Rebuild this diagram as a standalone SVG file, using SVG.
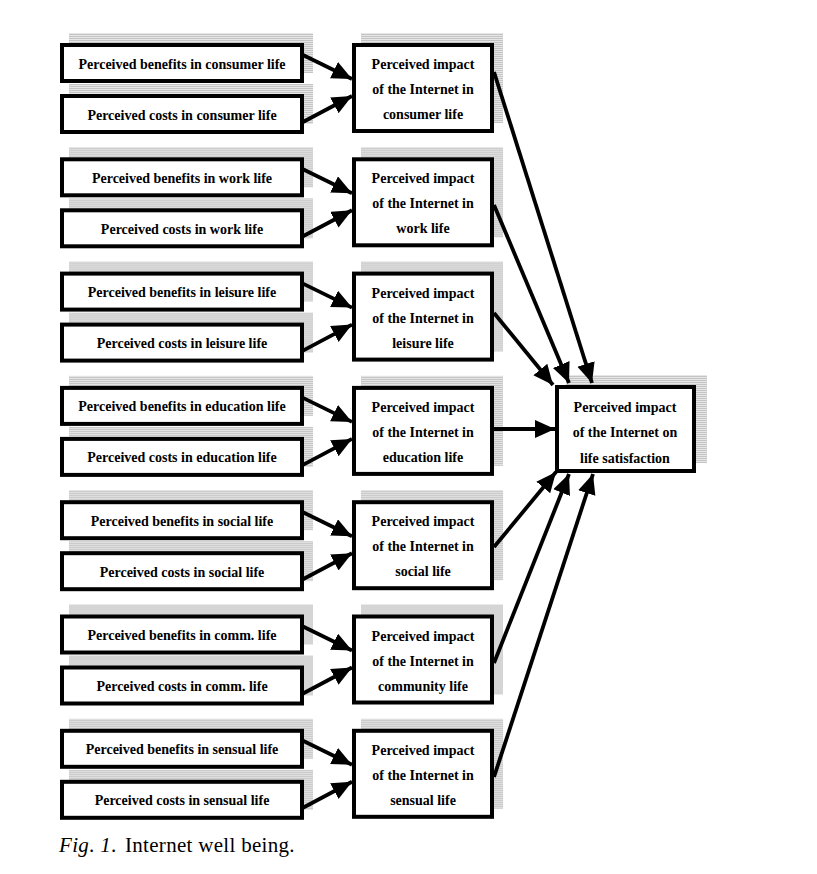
<svg xmlns="http://www.w3.org/2000/svg" width="817" height="874" viewBox="0 0 817 874">
<defs>
<pattern id="stripes" patternUnits="userSpaceOnUse" width="4" height="2">
<rect width="4" height="2" fill="#e6e6e6"/>
<rect width="4" height="1" fill="#c4c4c4"/>
</pattern>
<marker id="ah" markerUnits="userSpaceOnUse" markerWidth="22" markerHeight="20" refX="20" refY="9" orient="auto">
<path d="M0,0 L20,9 L0,18 z" fill="#000"/>
</marker>
</defs>
<style>
.sh{fill:url(#stripes);}
.bx{fill:#fff;stroke:#000;stroke-width:4;}
.t{font-family:"Liberation Serif","Times New Roman",serif;font-weight:bold;font-size:14px;text-anchor:middle;fill:#000;}
.c{fill:none;stroke:#000;stroke-width:3.8;marker-end:url(#ah);}
.cap{font-family:"Liberation Serif","Times New Roman",serif;font-size:21px;letter-spacing:0.3px;fill:#000;}
</style>
<rect width="817" height="874" fill="#fff"/>

<g id="consumer" transform="translate(0,0)">
<g id="b-consumer"><rect class="sh" x="69" y="33" width="244" height="40"/><rect class="bx" x="62" y="45" width="240" height="36"/><text class="t" x="182" y="68.5">Perceived benefits in consumer life</text></g>
<g id="c-consumer"><rect class="sh" x="69" y="84" width="244" height="40"/><rect class="bx" x="62" y="96" width="240" height="36"/><text class="t" x="182" y="119.5">Perceived costs in consumer life</text></g>
<g id="i-consumer"><rect class="sh" x="361" y="33" width="142" height="90"/><rect class="bx" x="354" y="45" width="138" height="86"/><text class="t" x="423" y="69">Perceived impact</text><text class="t" x="423" y="94">of the Internet in</text><text class="t" x="423" y="119">consumer life</text></g>
</g>

<g id="work" transform="translate(0,114.3)">
<g id="b-work"><rect class="sh" x="69" y="33" width="244" height="40"/><rect class="bx" x="62" y="45" width="240" height="36"/><text class="t" x="182" y="68.5">Perceived benefits in work life</text></g>
<g id="c-work"><rect class="sh" x="69" y="84" width="244" height="40"/><rect class="bx" x="62" y="96" width="240" height="36"/><text class="t" x="182" y="119.5">Perceived costs in work life</text></g>
<g id="i-work"><rect class="sh" x="361" y="33" width="142" height="90"/><rect class="bx" x="354" y="45" width="138" height="86"/><text class="t" x="423" y="69">Perceived impact</text><text class="t" x="423" y="94">of the Internet in</text><text class="t" x="423" y="119">work life</text></g>
</g>

<g id="leisure" transform="translate(0,228.6)">
<g id="b-leisure"><rect class="sh" x="69" y="33" width="244" height="40"/><rect class="bx" x="62" y="45" width="240" height="36"/><text class="t" x="182" y="68.5">Perceived benefits in leisure life</text></g>
<g id="c-leisure"><rect class="sh" x="69" y="84" width="244" height="40"/><rect class="bx" x="62" y="96" width="240" height="36"/><text class="t" x="182" y="119.5">Perceived costs in leisure life</text></g>
<g id="i-leisure"><rect class="sh" x="361" y="33" width="142" height="90"/><rect class="bx" x="354" y="45" width="138" height="86"/><text class="t" x="423" y="69">Perceived impact</text><text class="t" x="423" y="94">of the Internet in</text><text class="t" x="423" y="119">leisure life</text></g>
</g>

<g id="education" transform="translate(0,342.9)">
<g id="b-education"><rect class="sh" x="69" y="33" width="244" height="40"/><rect class="bx" x="62" y="45" width="240" height="36"/><text class="t" x="182" y="68.5">Perceived benefits in education life</text></g>
<g id="c-education"><rect class="sh" x="69" y="84" width="244" height="40"/><rect class="bx" x="62" y="96" width="240" height="36"/><text class="t" x="182" y="119.5">Perceived costs in education life</text></g>
<g id="i-education"><rect class="sh" x="361" y="33" width="142" height="90"/><rect class="bx" x="354" y="45" width="138" height="86"/><text class="t" x="423" y="69">Perceived impact</text><text class="t" x="423" y="94">of the Internet in</text><text class="t" x="423" y="119">education life</text></g>
</g>

<g id="social" transform="translate(0,457.2)">
<g id="b-social"><rect class="sh" x="69" y="33" width="244" height="40"/><rect class="bx" x="62" y="45" width="240" height="36"/><text class="t" x="182" y="68.5">Perceived benefits in social life</text></g>
<g id="c-social"><rect class="sh" x="69" y="84" width="244" height="40"/><rect class="bx" x="62" y="96" width="240" height="36"/><text class="t" x="182" y="119.5">Perceived costs in social life</text></g>
<g id="i-social"><rect class="sh" x="361" y="33" width="142" height="90"/><rect class="bx" x="354" y="45" width="138" height="86"/><text class="t" x="423" y="69">Perceived impact</text><text class="t" x="423" y="94">of the Internet in</text><text class="t" x="423" y="119">social life</text></g>
</g>

<g id="community" transform="translate(0,571.5)">
<g id="b-community"><rect class="sh" x="69" y="33" width="244" height="40"/><rect class="bx" x="62" y="45" width="240" height="36"/><text class="t" x="182" y="68.5">Perceived benefits in comm. life</text></g>
<g id="c-community"><rect class="sh" x="69" y="84" width="244" height="40"/><rect class="bx" x="62" y="96" width="240" height="36"/><text class="t" x="182" y="119.5">Perceived costs in comm. life</text></g>
<g id="i-community"><rect class="sh" x="361" y="33" width="142" height="90"/><rect class="bx" x="354" y="45" width="138" height="86"/><text class="t" x="423" y="69">Perceived impact</text><text class="t" x="423" y="94">of the Internet in</text><text class="t" x="423" y="119">community life</text></g>
</g>

<g id="sensual" transform="translate(0,685.8)">
<g id="b-sensual"><rect class="sh" x="69" y="33" width="244" height="40"/><rect class="bx" x="62" y="45" width="240" height="36"/><text class="t" x="182" y="68.5">Perceived benefits in sensual life</text></g>
<g id="c-sensual"><rect class="sh" x="69" y="84" width="244" height="40"/><rect class="bx" x="62" y="96" width="240" height="36"/><text class="t" x="182" y="119.5">Perceived costs in sensual life</text></g>
<g id="i-sensual"><rect class="sh" x="361" y="33" width="142" height="90"/><rect class="bx" x="354" y="45" width="138" height="86"/><text class="t" x="423" y="69">Perceived impact</text><text class="t" x="423" y="94">of the Internet in</text><text class="t" x="423" y="119">sensual life</text></g>
</g>

<g id="satisfaction">
<rect class="sh" x="566" y="375" width="141" height="88"/>
<rect class="bx" x="557" y="387" width="137" height="84"/>
<text class="t" x="625" y="412">Perceived impact</text>
<text class="t" x="625" y="437">of the Internet on</text>
<text class="t" x="625" y="462.5">life satisfaction</text>
</g>

<g id="connectors">
<g transform="translate(0,0)"><path class="c" d="M303,55 L352,79"/><path class="c" d="M303,122 L352,96"/></g>
<g transform="translate(0,114.3)"><path class="c" d="M303,55 L352,79"/><path class="c" d="M303,122 L352,96"/></g>
<g transform="translate(0,228.6)"><path class="c" d="M303,55 L352,79"/><path class="c" d="M303,122 L352,96"/></g>
<g transform="translate(0,342.9)"><path class="c" d="M303,55 L352,79"/><path class="c" d="M303,122 L352,96"/></g>
<g transform="translate(0,457.2)"><path class="c" d="M303,55 L352,79"/><path class="c" d="M303,122 L352,96"/></g>
<g transform="translate(0,571.5)"><path class="c" d="M303,55 L352,79"/><path class="c" d="M303,122 L352,96"/></g>
<g transform="translate(0,685.8)"><path class="c" d="M303,55 L352,79"/><path class="c" d="M303,122 L352,96"/></g>
<path class="c" d="M494,72 L592,383"/>
<path class="c" d="M494,205 L569,383"/>
<path class="c" d="M494,313 L553,385"/>
<path class="c" d="M494,429 L555,429"/>
<path class="c" d="M494,547 L556,472"/>
<path class="c" d="M494,663 L569,474"/>
<path class="c" d="M494,777 L593,474"/>
</g>

<text class="cap" y="852"><tspan x="59" font-style="italic">Fig</tspan>. <tspan font-style="italic">1</tspan>.<tspan x="125">Internet well being.</tspan></text>
</svg>
